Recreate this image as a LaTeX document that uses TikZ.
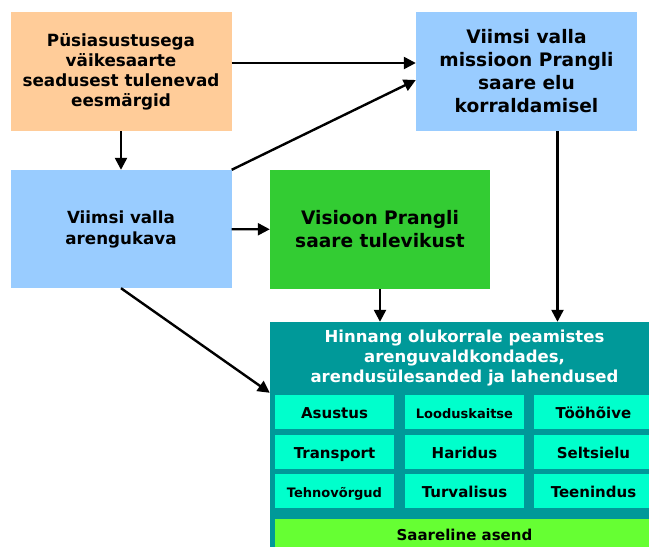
\documentclass[tikz,border=0pt]{standalone}
\usepackage{fontspec}
\setmainfont{DejaVu Sans}
\usetikzlibrary{arrows.meta}

\definecolor{peach}{HTML}{FFCC99}
\definecolor{skyblue}{HTML}{99CCFF}
\definecolor{leafgreen}{HTML}{33CC33}
\definecolor{tealbg}{HTML}{009999}
\definecolor{aquacell}{HTML}{00FFCC}
\definecolor{limebar}{HTML}{66FF33}

\tikzset{
    block/.style={rectangle, inner sep=0pt, align=center, font=\bfseries},
    cell/.style={block, fill=aquacell, minimum width=119pt, minimum height=34pt,
        text height=15pt, text depth=3pt},
    link/.style={line width=2.4pt, -{Triangle[length=12pt,width=12pt]}},
}

\begin{document}
\begin{tikzpicture}[x=1pt,y=-1pt]
    \useasboundingbox (0,0) rectangle (649,547);

    % upper boxes
    \node[block, fill=peach, minimum width=221pt, minimum height=119pt,
        font=\bfseries\fontsize{16.8}{20}\selectfont] (goals) at (121,71.5)
        {Püsiasustusega\\väikesaarte\\seadusest tulenevad\\eesmärgid};
    \node[block, fill=skyblue, minimum width=221pt, minimum height=119pt,
        font=\bfseries\fontsize{18.6}{23}\selectfont] (mission) at (526.5,71.5)
        {Viimsi valla\\missioon Prangli\\saare elu\\korraldamisel};
    \node[block, fill=skyblue, minimum width=221pt, minimum height=118pt,
        font=\bfseries\fontsize{16.7}{21}\selectfont] (plan) at (121,229)
        {Viimsi valla\\arengukava};
    \node[block, fill=leafgreen, minimum width=220pt, minimum height=119pt,
        font=\bfseries\fontsize{18.6}{23}\selectfont] (vision) at (380,229.5)
        {Visioon Prangli\\saare tulevikust};

    % assessment block
    \node[block, fill=tealbg, minimum width=389pt, minimum height=230pt] (assess) at (464.5,437) {};
    \node[block, text=white, font=\bfseries\fontsize{16.5}{20}\selectfont] (title) at (464.5,358)
        {Hinnang olukorrale peamistes\\arenguvaldkondades,\\arendusülesanded ja lahendused};
    \foreach \cname/\ctext/\csize/\cx/\cy in {
        asustus/Asustus/15/334.5/412, looduskaitse/Looduskaitse/13/464.5/412, toohoive/Tööhõive/15/593.5/412,
        transport/Transport/15/334.5/452, haridus/Haridus/15/464.5/452, seltsielu/Seltsielu/15/593.5/452,
        tehnovorgud/Tehnovõrgud/13/334.5/491, turvalisus/Turvalisus/15/464.5/491, teenindus/Teenindus/15/593.5/491}
        \node[cell, font=\bfseries\fontsize{\csize}{18}\selectfont] (\cname) at (\cx,\cy) {\ctext};
    \node[block, fill=limebar, minimum width=379pt, minimum height=30pt,
        text height=15pt, text depth=3pt,
        font=\bfseries\fontsize{15}{18}\selectfont] (bar) at (464.5,534) {Saareline asend};

    % arrows
    \draw[link] ([yshift=8.5pt]goals.east) -- ([yshift=8.5pt]goals.east -| mission.west);
    \draw[link] (plan.north east) -- ([yshift=-8.5pt]mission.west);
    \draw[link] (goals) -- (plan);
    \draw[link] (plan) -- (vision);
    \draw[link] (plan.south) -- ([yshift=-71pt]assess.north west);
    \draw[link] (vision.south) -- (vision.south |- assess.north);
    \draw[link] ([xshift=31pt]mission.south) -- ([xshift=31pt]mission.south |- assess.north);
\end{tikzpicture}
\end{document}
